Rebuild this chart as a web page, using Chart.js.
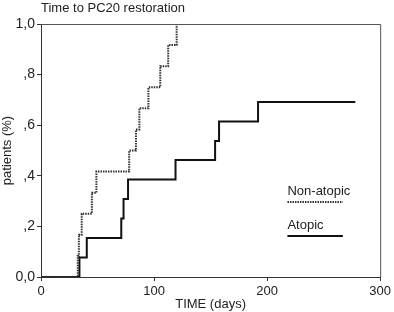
<!DOCTYPE html>
<html>
<head>
<meta charset="utf-8">
<script src="https://cdn.jsdelivr.net/npm/chart.js@4.4.1/dist/chart.umd.min.js"></script>
<style>
  html, body { margin: 0; padding: 0; background: #fff; }
  #wrap { position: relative; width: 394px; height: 312px; }
</style>
</head>
<body>
<div id="wrap"><canvas id="kmChart"></canvas></div>
<script>
const chartTitle = "Time to PC20 restoration";

// Kaplan-Meier style steps
const nonAtopicDays = [0, 32.5, 33.5, 36, 45, 49, 78, 84, 87, 95, 105.5, 112.5, 120];
const nonAtopicRate = [0, 0.083, 0.167, 0.25, 0.333, 0.417, 0.5, 0.583, 0.667, 0.75, 0.833, 0.917, 1.0];

const atopicDays = [0, 34, 40.5, 71, 73, 77, 119, 154, 157.5, 192, 278];
const atopicRate = [0, 0.077, 0.154, 0.231, 0.308, 0.385, 0.462, 0.538, 0.615, 0.692, 0.692];

const xTicks = [0, 100, 200, 300];
const yTicks = [0, 0.2, 0.4, 0.6, 0.8, 1.0];
const yTickLabels = ["0,0", ",2", ",4", ",6", ",8", "1,0"];

const toPoints = (xs, ys) => xs.map((x, i) => ({ x, y: ys[i] }));

const ink = "#222";
const font = "'Liberation Sans', Arial, Helvetica, sans-serif";

// frame, title and the in-plot legend
const decorations = {
  id: "decorations",
  afterDraw(chart) {
    const { ctx, chartArea: a } = chart;
    ctx.save();
    ctx.strokeStyle = "#555";
    ctx.lineWidth = 1;
    ctx.beginPath();
    ctx.moveTo(a.left, a.top + 0.5);
    ctx.lineTo(a.right + 0.5, a.top + 0.5);
    ctx.lineTo(a.right + 0.5, a.bottom);
    ctx.stroke();

    ctx.fillStyle = ink;
    ctx.font = "13px " + font;
    ctx.textBaseline = "alphabetic";
    ctx.fillText(chartTitle, a.left, 12);

    const xs = chart.scales.x;
    const lx = xs.getPixelForValue(218);
    const lw = xs.getPixelForValue(267) - lx;
    chart.data.datasets.forEach((ds, i) => {
      const ty = 195 + i * 34;
      ctx.fillStyle = ink;
      ctx.fillText(ds.label, lx, ty);
      ctx.strokeStyle = ds.borderColor;
      ctx.lineWidth = ds.borderWidth;
      ctx.setLineDash(ds.borderDash || []);
      ctx.beginPath();
      ctx.moveTo(lx, ty + 7);
      ctx.lineTo(lx + lw, ty + 7);
      ctx.stroke();
    });
    ctx.restore();
  },
};

new Chart(document.getElementById("kmChart"), {
  type: "line",
  data: {
    datasets: [
      {
        label: "Non-atopic",
        data: toPoints(nonAtopicDays, nonAtopicRate),
        borderColor: "#333",
        borderWidth: 2,
        borderDash: [1.5, 1],
        stepped: "before",
        pointRadius: 0,
        fill: false,
      },
      {
        label: "Atopic",
        data: toPoints(atopicDays, atopicRate),
        borderColor: "#111",
        borderWidth: 2,
        stepped: "before",
        pointRadius: 0,
        fill: false,
      },
    ],
  },
  options: {
    responsive: true,
    maintainAspectRatio: false,
    animation: false,
    layout: { padding: { top: 24, right: 12, left: 0, bottom: 0 } },
    plugins: { legend: { display: false }, tooltip: { enabled: false } },
    scales: {
      x: {
        type: "linear",
        min: 0,
        max: 300,
        afterBuildTicks: (s) => { s.ticks = xTicks.map((v) => ({ value: v })); },
        afterFit: (s) => { s.height = 35; },
        grid: { drawOnChartArea: false, drawTicks: true, tickLength: 4, color: "#333" },
        border: { display: true, color: "#333", width: 1 },
        ticks: { color: ink, font: { family: font, size: 13 }, padding: 3, maxRotation: 0 },
        title: { display: true, text: "TIME (days)", color: ink, font: { family: font, size: 13 }, padding: { top: 0, bottom: 0 } },
      },
      y: {
        min: 0,
        max: 1,
        afterBuildTicks: (s) => { s.ticks = yTicks.map((v) => ({ value: v })); },
        afterFit: (s) => { s.width = 41; },
        grid: { drawOnChartArea: false, drawTicks: true, tickLength: 4, color: "#333" },
        border: { display: true, color: "#333", width: 1 },
        ticks: {
          color: ink,
          font: { family: font, size: 14 },
          padding: 2,
          callback: (v) => yTickLabels[yTicks.findIndex((t) => Math.abs(t - v) < 1e-6)],
        },
        title: { display: true, text: "patients (%)", color: ink, font: { family: font, size: 13 }, padding: { top: 0, bottom: 0 } },
      },
    },
  },
  plugins: [decorations],
});
</script>
</body>
</html>
